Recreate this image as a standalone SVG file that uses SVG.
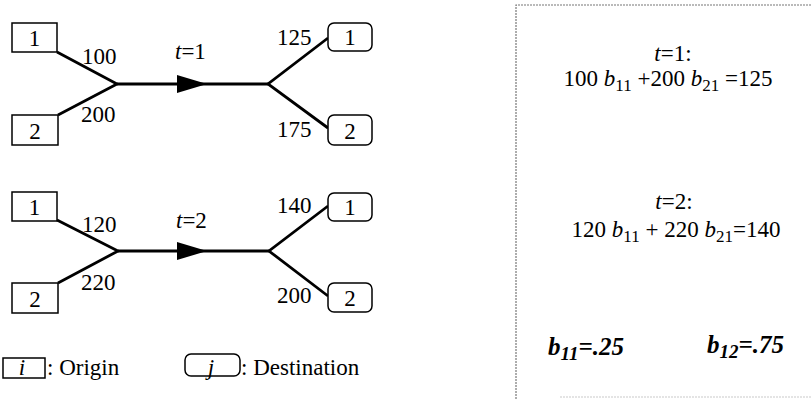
<svg xmlns="http://www.w3.org/2000/svg" width="811" height="399" viewBox="0 0 811 399">
<style>
text{font-family:"Liberation Serif","Times New Roman",serif;fill:#000}
.lbl{font-size:23px}
.eq{font-size:23px}
.sub{font-size:17px}
.it{font-style:italic}
.bi{font-size:25px;font-weight:bold;font-style:italic}
.o{fill:#fff;stroke:#000;stroke-width:1.5}
.e{fill:none;stroke:#000;stroke-width:2.8}
.panel{fill:none;stroke:#777;stroke-width:1.2;stroke-dasharray:2 1}
</style>
<defs>
<marker id="ah" viewBox="0 0 30 18" refX="30" refY="9" markerWidth="30" markerHeight="18" markerUnits="userSpaceOnUse" orient="auto">
<path d="M0,0 L30,9 L0,18 Z" fill="#000"/>
</marker>
</defs>

<g id="connectors">
<path class="e" d="M57,52 L117,84 L58,115"/>
<path class="e" d="M117,84 L207,84" marker-end="url(#ah)"/>
<path class="e" d="M207,84 L268,84"/>
<path class="e" d="M328,38 L268,84 L328,128"/>
<path class="e" d="M57,220 L118,251 L58,283"/>
<path class="e" d="M118,251 L207,251" marker-end="url(#ah)"/>
<path class="e" d="M207,251 L269,251"/>
<path class="e" d="M328,206 L269,251 L328,296"/>
</g>

<g id="o1t1"><rect class="o" x="12" y="23" width="45" height="29"/><text class="lbl" x="34.5" y="46" text-anchor="middle">1</text></g>
<g id="o2t1"><rect class="o" x="12" y="115" width="46" height="30"/><text class="lbl" x="35" y="139" text-anchor="middle">2</text></g>
<g id="d1t1"><rect class="o" x="328" y="23" width="44" height="28" rx="6"/><text class="lbl" x="350" y="45" text-anchor="middle">1</text></g>
<g id="d2t1"><rect class="o" x="328" y="115" width="44" height="30" rx="6"/><text class="lbl" x="350" y="139" text-anchor="middle">2</text></g>
<g id="labels1">
<text class="lbl" x="82" y="64">100</text>
<text class="lbl" x="81" y="122">200</text>
<text class="lbl" x="175" y="59"><tspan class="it">t</tspan>=1</text>
<text class="lbl" x="277" y="45">125</text>
<text class="lbl" x="277" y="137">175</text>
</g>

<g id="o1t2"><rect class="o" x="12" y="192" width="45" height="29"/><text class="lbl" x="34.5" y="215" text-anchor="middle">1</text></g>
<g id="o2t2"><rect class="o" x="12" y="283" width="46" height="30"/><text class="lbl" x="35" y="307" text-anchor="middle">2</text></g>
<g id="d1t2"><rect class="o" x="328" y="193" width="44" height="28" rx="6"/><text class="lbl" x="350" y="215" text-anchor="middle">1</text></g>
<g id="d2t2"><rect class="o" x="328" y="283" width="44" height="29" rx="6"/><text class="lbl" x="350" y="306" text-anchor="middle">2</text></g>
<g id="labels2">
<text class="lbl" x="82" y="232">120</text>
<text class="lbl" x="81" y="290">220</text>
<text class="lbl" x="176" y="228"><tspan class="it">t</tspan>=2</text>
<text class="lbl" x="277" y="213">140</text>
<text class="lbl" x="277" y="303">200</text>
</g>

<g id="legend">
<rect class="o" x="3" y="358" width="42" height="20"/>
<text class="lbl it" x="22" y="375" text-anchor="middle">i</text>
<text class="lbl" x="47" y="375">: Origin</text>
<rect class="o" x="185" y="354" width="55" height="22" rx="6"/>
<text class="lbl it" x="211" y="375" text-anchor="middle">j</text>
<text class="lbl" x="241" y="375">: Destination</text>
</g>

<g id="panel">
<path class="panel" d="M811,5 L516,5 L516,399"/>
<path class="panel" d="M560,397 L811,397" stroke-opacity="0.4"/>
<text class="eq" x="673" y="61" text-anchor="middle"><tspan class="it">t</tspan>=1:</text>
<text class="eq" x="668" y="86" text-anchor="middle">100 <tspan class="it">b</tspan><tspan class="sub" dy="5">11</tspan><tspan dy="-5"> +200 </tspan><tspan class="it">b</tspan><tspan class="sub" dy="5">21</tspan><tspan dy="-5"> =125</tspan></text>
<text class="eq" x="674" y="209" text-anchor="middle"><tspan class="it">t</tspan>=2:</text>
<text class="eq" x="676" y="237" text-anchor="middle">120 <tspan class="it">b</tspan><tspan class="sub" dy="5">11</tspan><tspan dy="-5"> + 220 </tspan><tspan class="it">b</tspan><tspan class="sub" dy="5">21</tspan><tspan dy="-5">=140</tspan></text>
<text class="bi" x="548" y="355">b<tspan font-size="19" dy="5">11</tspan><tspan dy="-5">=.25</tspan></text>
<text class="bi" x="707" y="353">b<tspan font-size="19" dy="5">12</tspan><tspan dy="-5">=.75</tspan></text>
</g>
</svg>
